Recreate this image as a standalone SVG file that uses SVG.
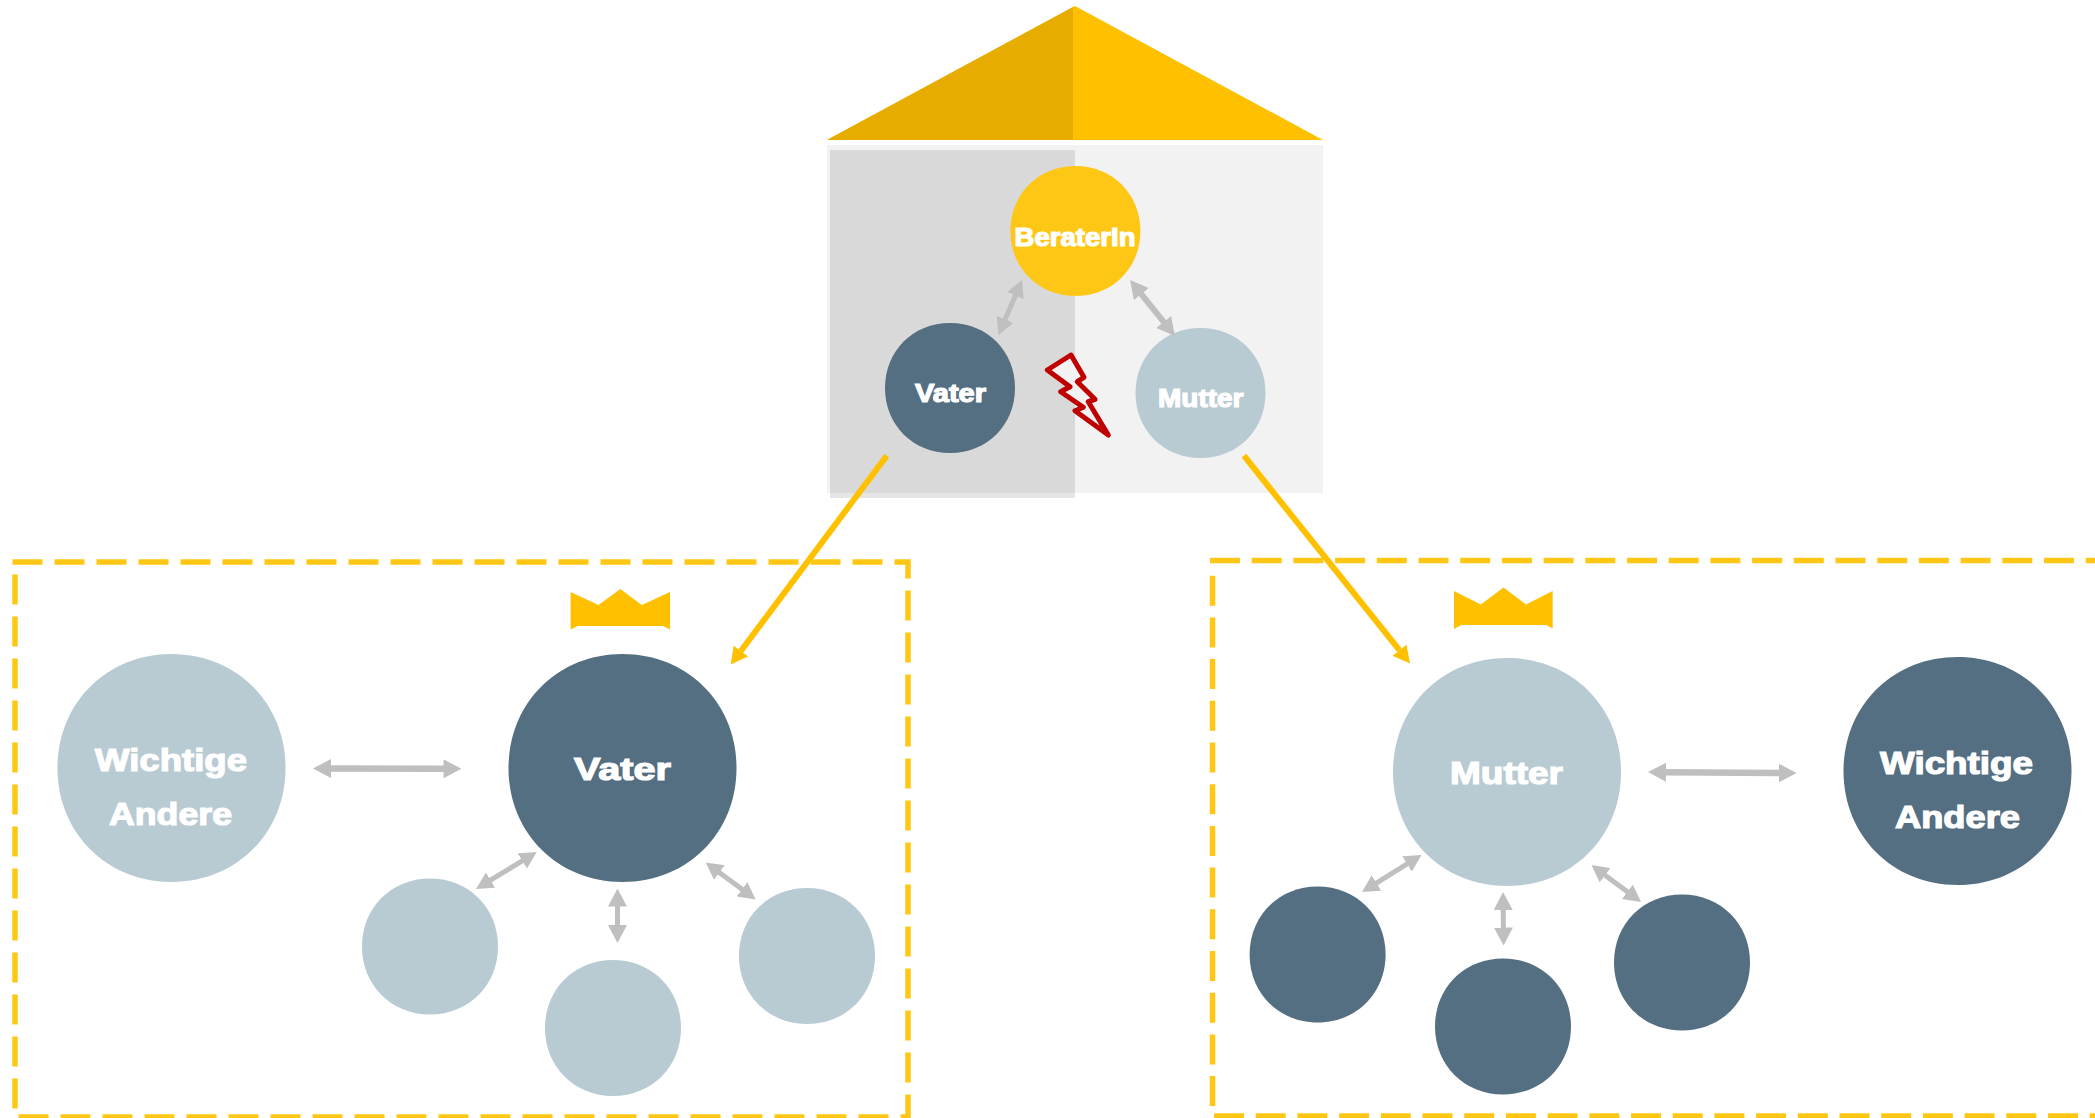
<svg xmlns="http://www.w3.org/2000/svg" width="2095" height="1118" viewBox="0 0 2095 1118">
<defs>
<style>
.dark{fill:#546E82}.light{fill:#B8CAD2}
.t{font-family:"Liberation Sans",Arial,sans-serif;font-weight:700;fill:#fff;stroke:#fff;stroke-width:1.2}
.s{font-size:25px}.b{font-size:31px}
.g{fill:none;stroke:#BFBFBF}
.y{fill:none;stroke:#FFC000;stroke-width:6}
.box{fill:none;stroke:#FFC715;stroke-width:5.5;stroke-dasharray:30 12}
.box2{fill:none;stroke:#FFC715;stroke-width:5.5;stroke-dasharray:30 11.7}
.crown{fill:#FFC000}
</style>
<path id="blob" d="M0,-1C0.57,-1 1,-0.57 1,0C1,0.57 0.57,1 0,1C-0.57,1 -1,0.57 -1,0C-1,-0.57 -0.57,-1 0,-1Z"/>
<marker id="g17" markerUnits="userSpaceOnUse" markerWidth="18" markerHeight="19" viewBox="0 0 18 19" refX="1" refY="9.5" orient="auto-start-reverse"><path d="M0,0L18,9.5L0,19Z" fill="#BFBFBF"/></marker>
<marker id="g14" markerUnits="userSpaceOnUse" markerWidth="17" markerHeight="18" viewBox="0 0 17 18" refX="3" refY="9" orient="auto-start-reverse"><path d="M0,0L17,9L0,18Z" fill="#BFBFBF"/></marker>
<marker id="yh" markerUnits="userSpaceOnUse" markerWidth="17" markerHeight="18" viewBox="0 0 17 18" refX="0" refY="9" orient="auto"><path d="M0,0L17,9L0,18Z" fill="#FFC000"/></marker>
</defs>
<g id="house">
<rect x="827" y="145" width="496" height="348" fill="#F2F2F2"/>
<rect x="830" y="150" width="245" height="348" fill="#000" fill-opacity="0.1"/>
<polygon points="1075,6 1323,140 827,140" fill="#FFC000"/>
<polygon points="1073,7 1073,140 827,140" fill="#E6AC00"/>
</g>
<path id="box-vater" class="box" d="M12.5,562H908V1117H15V562"/>
<g id="box-mutter"><path class="box2" d="M1210,560.5H2095"/><path class="box2" d="M1212.5,575.7V1116"/><path class="box2" d="M1214,1116H2095"/></g>
<g id="node-beraterin"><use href="#blob" transform="translate(1075.4 231) scale(65)" fill="#FFC715"/><text class="t s" x="1014.5" y="246" textLength="121" lengthAdjust="spacingAndGlyphs">BeraterIn</text></g>
<g id="node-vater-top"><use href="#blob" class="dark" transform="translate(950 388) scale(65)"/><text class="t s" x="915" y="401.5" textLength="71" lengthAdjust="spacingAndGlyphs">Vater</text></g>
<g id="node-mutter-top"><use href="#blob" class="light" transform="translate(1200.5 393) scale(65)"/><text class="t s" x="1158" y="406.5" textLength="85.5" lengthAdjust="spacingAndGlyphs">Mutter</text></g>
<polygon id="conflict" points="1071,355 1047.3,370 1070,386.7 1060.7,391.7 1083.3,407.3 1075,410.7 1108.3,435 1088.3,401.7 1095,399.3 1077.3,381.7 1084,377.3" fill="#F2F2F2" stroke="#C00000" stroke-width="5" stroke-linejoin="round"/>
<g id="node-wichtige-left"><use href="#blob" class="light" transform="translate(171.5 768) scale(114)"/><text class="t b" lengthAdjust="spacingAndGlyphs" x="95" y="771" textLength="152">Wichtige</text><text class="t b" x="109" y="824.5" textLength="123" lengthAdjust="spacingAndGlyphs">Andere</text></g>
<g id="node-vater"><use href="#blob" class="dark" transform="translate(622.5 768) scale(114)"/><text class="t b" x="574" y="779.5" textLength="97" lengthAdjust="spacingAndGlyphs">Vater</text></g>
<polygon id="crown-vater" class="crown" points="570.6,592 598.5,605 620.4,589 641.8,605 670,592 670,629.6 663,626 578,626 570.6,629.6"/>
<use id="node-v1" href="#blob" class="light" transform="translate(430 946.5) scale(68)"/>
<use id="node-v2" href="#blob" class="light" transform="translate(613 1028) scale(68)"/>
<use id="node-v3" href="#blob" class="light" transform="translate(807 956) scale(68)"/>
<g id="node-mutter"><use href="#blob" class="light" transform="translate(1507 772) scale(114)"/><text class="t b" x="1450" y="784" textLength="113" lengthAdjust="spacingAndGlyphs">Mutter</text></g>
<g id="node-wichtige-right"><use href="#blob" class="dark" transform="translate(1957.5 771) scale(114)"/><text class="t b" x="1880" y="774" textLength="153" lengthAdjust="spacingAndGlyphs">Wichtige</text><text class="t b" x="1895" y="827.5" textLength="125" lengthAdjust="spacingAndGlyphs">Andere</text></g>
<polygon id="crown-mutter" class="crown" points="1454,591 1480.8,604.5 1503.6,587.5 1526,604.5 1552.7,591 1552.7,628.5 1546,625 1461.4,625 1454,629"/>
<use id="node-m1" href="#blob" class="dark" transform="translate(1317.6 954.5) scale(68)"/>
<use id="node-m2" href="#blob" class="dark" transform="translate(1503 1026.5) scale(68)"/>
<use id="node-m3" href="#blob" class="dark" transform="translate(1682 962.5) scale(68)"/>
<g id="connectors">
<line class="g" stroke-width="5" x1="1003.9" y1="322.2" x2="1016.6" y2="292.8" marker-start="url(#g14)" marker-end="url(#g14)"/>
<line class="g" stroke-width="6" x1="1140.7" y1="293.3" x2="1164.3" y2="322.7" marker-start="url(#g17)" marker-end="url(#g17)"/>
<line class="g" stroke-width="6.5" x1="330" y1="768.5" x2="444.5" y2="768.8" marker-start="url(#g17)" marker-end="url(#g17)"/>
<line class="g" stroke-width="5" x1="488" y1="881.7" x2="524.8" y2="859.3" marker-start="url(#g14)" marker-end="url(#g14)"/>
<line class="g" stroke-width="5" x1="617.5" y1="905.6" x2="617.5" y2="925.9" marker-start="url(#g17)" marker-end="url(#g17)"/>
<line class="g" stroke-width="5" x1="717" y1="870.8" x2="744.4" y2="891.1" marker-start="url(#g14)" marker-end="url(#g14)"/>
<line class="g" stroke-width="6.5" x1="1665" y1="772.2" x2="1779.6" y2="773" marker-start="url(#g17)" marker-end="url(#g17)"/>
<line class="g" stroke-width="5" x1="1373.9" y1="884.6" x2="1409.6" y2="862.4" marker-start="url(#g14)" marker-end="url(#g14)"/>
<line class="g" stroke-width="5" x1="1503.2" y1="909" x2="1503.4" y2="928.5" marker-start="url(#g17)" marker-end="url(#g17)"/>
<line class="g" stroke-width="5" x1="1602.7" y1="873.4" x2="1629.8" y2="893.6" marker-start="url(#g14)" marker-end="url(#g14)"/>
<line class="y" x1="886.7" y1="455.7" x2="740.9" y2="651" marker-end="url(#yh)"/>
<line class="y" x1="1243.9" y1="455.7" x2="1399.4" y2="650.2" marker-end="url(#yh)"/>
</g>
</svg>
